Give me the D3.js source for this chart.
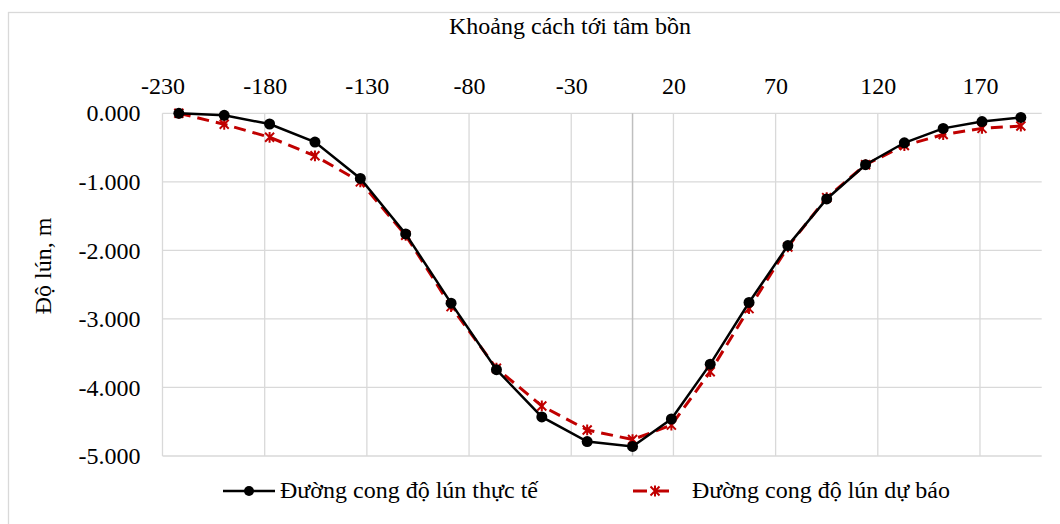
<!DOCTYPE html>
<html><head><meta charset="utf-8">
<script src="https://cdn.jsdelivr.net/npm/d3@7"></script>
<style>body{margin:0;background:#fff}svg{display:block}svg text{font-family:"Liberation Serif";fill:#000}</style>
</head><body>
<svg id="c" width="1060" height="524"></svg>
<script>
const distances = [-222, -199.8, -177.6, -155.4, -133.2, -111, -88.8, -66.6, -44.4, -22.2, 0, 19, 38, 57, 76, 95, 114, 133, 152, 171, 190];
const actual    = [0, -0.03, -0.156, -0.42, -0.95, -1.76, -2.77, -3.74, -4.43, -4.79, -4.86, -4.46, -3.66, -2.76, -1.93, -1.25, -0.75, -0.43, -0.22, -0.12, -0.06];
const predicted = [0, -0.16, -0.35, -0.62, -1.0, -1.78, -2.82, -3.72, -4.27, -4.62, -4.76, -4.55, -3.77, -2.85, -1.95, -1.23, -0.75, -0.47, -0.31, -0.22, -0.185];
const xTicks = [-230, -180, -130, -80, -30, 20, 70, 120, 170];
const yTicks = [0, -1, -2, -3, -4, -5];
const seriesNames = ["Đường cong độ lún thực tế", "Đường cong độ lún dự báo"];
const xTitle = "Khoảng cách tới tâm bồn";
const yTitle = "Độ lún, m";

const svg = d3.select("#c");
const FS = 24;
const L = 162.5, R = 1041.7, T = 113.3, B = 456;
const x = d3.scaleLinear().domain([-230, 200.2]).range([L, R]);
const y = d3.scaleLinear().domain([0, -5]).range([T, B]);

svg.append("rect").attr("x", 8.5).attr("y", 12.5).attr("width", 1060).attr("height", 520)
  .attr("fill", "#fff").attr("stroke", "#d9d9d9").attr("stroke-width", 1.3);

// gridlines
const g = svg.append("g");
g.selectAll(".vg").data(xTicks).join("line")
  .attr("x1", d => x(d)).attr("x2", d => x(d)).attr("y1", T).attr("y2", B)
  .attr("stroke", "#d9d9d9").attr("stroke-width", 1.3);
g.selectAll(".hg").data(yTicks).join("line")
  .attr("x1", L).attr("x2", R).attr("y1", d => y(d)).attr("y2", d => y(d))
  .attr("stroke", "#d9d9d9").attr("stroke-width", 1.3);
// vertical axis line at x = 0
g.append("line").attr("x1", x(0)).attr("x2", x(0)).attr("y1", T).attr("y2", B)
  .attr("stroke", "#bfbfbf").attr("stroke-width", 1.5);

// axes via d3
const xAxis = d3.axisTop(x).tickValues(xTicks).tickSize(0).tickPadding(19).tickFormat(d => String(d));
const xa = svg.append("g").attr("transform", `translate(0,${T})`).call(xAxis);
xa.attr("font-family", null).attr("font-size", FS);
xa.select(".domain").remove();

const yAxis = d3.axisLeft(y).tickValues(yTicks).tickSize(0).tickPadding(22)
  .tickFormat(d => d3.format(".3f")(d).replace("−", "-"));
const ya = svg.append("g").attr("transform", `translate(${L},0)`).call(yAxis);
ya.attr("font-family", null).attr("font-size", FS);
ya.select(".domain").remove();

svg.append("text").attr("x", 570).attr("y", 34).attr("text-anchor", "middle")
  .attr("font-size", FS).text(xTitle);
svg.append("text").attr("transform", "translate(51,266) rotate(-90)").attr("text-anchor", "middle")
  .attr("font-size", FS).text(yTitle);

const red = "#c00000";
const line = d3.line().x(d => x(d[0])).y(d => y(d[1]));
const aData = distances.map((d, i) => [d, actual[i]]);
const pData = distances.map((d, i) => [d, predicted[i]]);

function star(s) {
  return `M${-s},${-s}L${s},${s}M${-s},${s}L${s},${-s}M0,${-s * 1.2}L0,${s * 1.2}`;
}

svg.append("path").datum(pData).attr("d", line).attr("fill", "none")
  .attr("stroke", red).attr("stroke-width", 3).attr("stroke-dasharray", "12,7");
svg.selectAll(".pm").data(pData).join("path")
  .attr("transform", d => `translate(${x(d[0])},${y(d[1])})`)
  .attr("d", star(4.5)).attr("stroke", red).attr("stroke-width", 2).attr("fill", "none");

svg.append("path").datum(aData).attr("d", line).attr("fill", "none")
  .attr("stroke", "#000").attr("stroke-width", 2.5);
svg.selectAll(".am").data(aData).join("circle")
  .attr("cx", d => x(d[0])).attr("cy", d => y(d[1])).attr("r", 5.5).attr("fill", "#000");

// legend
const ly = 491;
const lg = svg.append("g");
lg.append("line").attr("x1", 223).attr("x2", 275).attr("y1", ly).attr("y2", ly).attr("stroke", "#000").attr("stroke-width", 2.5);
lg.append("circle").attr("cx", 249).attr("cy", ly).attr("r", 5).attr("fill", "#000");
lg.append("text").attr("x", 280).attr("y", ly + 7).attr("font-size", FS).text(seriesNames[0]);
lg.append("line").attr("x1", 633).attr("x2", 675).attr("y1", ly).attr("y2", ly).attr("stroke", red).attr("stroke-width", 3).attr("stroke-dasharray", "14,8");
lg.append("path").attr("transform", `translate(655,${ly})`).attr("d", star(4.5)).attr("stroke", red).attr("stroke-width", 2).attr("fill", "none");
lg.append("text").attr("x", 692).attr("y", ly + 7).attr("font-size", FS).text(seriesNames[1]);
</script>
</body></html>
